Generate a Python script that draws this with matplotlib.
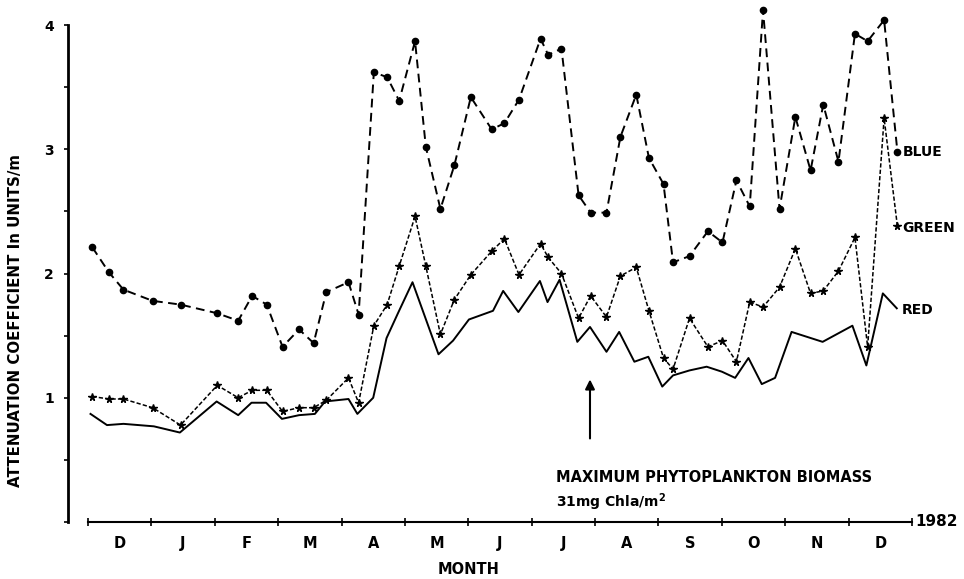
import matplotlib
matplotlib.use("Agg")
import matplotlib.pyplot as plt
import matplotlib.transforms as mtransforms

# Sampling dates in months since 1 December 1981 (shared by blue and green)
bg_months = [0.07, 0.33, 0.56, 1.02, 1.46, 2.04, 2.37, 2.59, 2.82, 3.07, 3.33, 3.56,
             3.76, 4.11, 4.27, 4.51, 4.72, 4.91, 5.16, 5.33, 5.56, 5.78, 6.04, 6.37,
             6.57, 6.80, 7.14, 7.26, 7.47, 7.74, 7.93, 8.18, 8.40, 8.65, 8.85, 9.08,
             9.23, 9.49, 9.78, 10.01, 10.23, 10.44, 10.65, 10.91, 11.16, 11.40, 11.60,
             11.84, 12.10, 12.30, 12.56, 12.77]

blue = [2.21, 2.01, 1.87, 1.78, 1.75, 1.68, 1.62, 1.82, 1.75, 1.41, 1.55, 1.44,
        1.85, 1.93, 1.67, 3.62, 3.58, 3.39, 3.87, 3.02, 2.52, 2.87, 3.42, 3.16,
        3.21, 3.40, 3.89, 3.76, 3.81, 2.63, 2.49, 2.49, 3.10, 3.44, 2.93, 2.72,
        2.09, 2.14, 2.34, 2.25, 2.75, 2.54, 4.12, 2.52, 3.26, 2.83, 3.36, 2.90,
        3.93, 3.87, 4.04, 2.98]

green = [1.01, 0.99, 0.99, 0.92, 0.78, 1.10, 1.00, 1.06, 1.06, 0.89, 0.92, 0.92,
         0.98, 1.16, 0.96, 1.58, 1.75, 2.06, 2.46, 2.06, 1.51, 1.79, 1.99, 2.18,
         2.28, 1.99, 2.24, 2.13, 2.00, 1.64, 1.82, 1.65, 1.98, 2.05, 1.70, 1.32,
         1.23, 1.64, 1.41, 1.46, 1.29, 1.77, 1.73, 1.89, 2.20, 1.84, 1.86, 2.02,
         2.29, 1.41, 3.25, 2.38]

red_months = [0.04, 0.30, 0.56, 1.04, 1.45, 2.03, 2.37, 2.58, 2.81, 3.06, 3.33, 3.58,
              3.74, 4.11, 4.25, 4.50, 4.71, 4.89, 5.12, 5.53, 5.76, 6.01, 6.39, 6.55,
              6.79, 7.13, 7.25, 7.44, 7.72, 7.92, 8.18, 8.38, 8.62, 8.84, 9.06, 9.23,
              9.49, 9.76, 10.00, 10.21, 10.42, 10.63, 10.84, 11.10, 11.59, 12.06,
              12.28, 12.54, 12.76]

red = [0.87, 0.78, 0.79, 0.77, 0.72, 0.97, 0.86, 0.96, 0.96, 0.83, 0.86, 0.87,
       0.97, 0.99, 0.87, 1.00, 1.48, 1.68, 1.93, 1.35, 1.46, 1.63, 1.70, 1.86,
       1.69, 1.94, 1.77, 1.95, 1.45, 1.57, 1.37, 1.53, 1.29, 1.33, 1.09, 1.18,
       1.22, 1.25, 1.21, 1.16, 1.32, 1.11, 1.16, 1.53, 1.45, 1.58, 1.26, 1.84, 1.72]

month_labels = ["D", "J", "F", "M", "A", "M", "J", "J", "A", "S", "O", "N", "D"]
y_ticks = [0, 1, 2, 3, 4]
y_tick_labels = ["", "1", "2", "3", "4"]

plt.rcParams["font.family"] = ["DejaVu Sans"]
plt.rcParams["font.weight"] = "bold"

fig = plt.figure(figsize=(9.64, 5.79), dpi=100)
ax = fig.add_axes([68 / 964, 57 / 579, 844 / 964, 515.6 / 579])

ax.plot(bg_months, blue, color="black", lw=1.4, ls=(0, (4.5, 2.8)),
        marker="o", ms=4.5, clip_on=False)
ax.plot(bg_months, green, color="black", lw=1.1, ls=(0, (2.8, 1.4)),
        marker="*", ms=5.5, clip_on=False)
ax.plot(red_months, red, color="black", lw=1.4, ls="-", clip_on=False)

ax.set_xlim(-0.315, 13.0)
ax.set_ylim(0, 4.15)

for side in ("top", "right"):
    ax.spines[side].set_visible(False)
ax.spines["left"].set_bounds(0, 4)
ax.spines["left"].set_linewidth(2.0)
ax.spines["bottom"].set_bounds(0, 13)
ax.spines["bottom"].set_linewidth(1.5)

# y axis
ax.set_yticks(y_ticks)
ax.set_yticklabels(y_tick_labels, fontsize=10, fontweight="bold")
ax.set_yticks([0.5, 1.5, 2.5, 3.5], minor=True)
ax.tick_params(axis="y", which="both", direction="out", length=3, width=1.2, pad=7)

# x axis: month boundaries as ticks, month initials centred between them
ax.set_xticks(range(14))
ax.set_xticklabels([""] * 14)
ax.set_xticks([i + 0.5 for i in range(13)], minor=True)
ax.set_xticklabels(month_labels, minor=True, fontsize=10.5, fontweight="bold")
ax.tick_params(axis="x", which="major", direction="inout", length=6, width=1.2)
ax.tick_params(axis="x", which="minor", length=0, pad=10)

blend = mtransforms.blended_transform_factory(ax.transData, ax.transAxes)
ax.text(6.0, -0.093, "MONTH", transform=blend, ha="center", va="center",
        fontsize=10.5, fontweight="bold")
ax.text(-0.062, 0.39, "ATTENUATION COEFFICIENT In UNITS/m", transform=ax.transAxes,
        rotation=90, ha="center", va="center", fontsize=10.8, fontweight="bold")
ax.text(13.06, 0.0, "1982", ha="left", va="center", fontsize=11,
        fontweight="bold", clip_on=False)

# series labels at the line ends
ax.text(12.85, 2.98, "BLUE", ha="left", va="center", fontsize=10, fontweight="bold")
ax.text(12.85, 2.37, "GREEN", ha="left", va="center", fontsize=10, fontweight="bold")
ax.text(12.84, 1.71, "RED", ha="left", va="center", fontsize=10, fontweight="bold")

# biomass maximum marker
ax.annotate("", xy=(7.92, 1.17), xytext=(7.92, 0.65),
            arrowprops=dict(arrowstyle="-|>", color="black", lw=1.5,
                            mutation_scale=14))
ax.text(7.38, 0.36, "MAXIMUM PHYTOPLANKTON BIOMASS", ha="left", va="center",
        fontsize=10.5, fontweight="bold")
ax.text(7.38, 0.16, "31mg Chla/m$^2$", ha="left", va="center",
        fontsize=10, fontweight="bold")

fig.savefig("out.png", dpi=100, facecolor="white")
